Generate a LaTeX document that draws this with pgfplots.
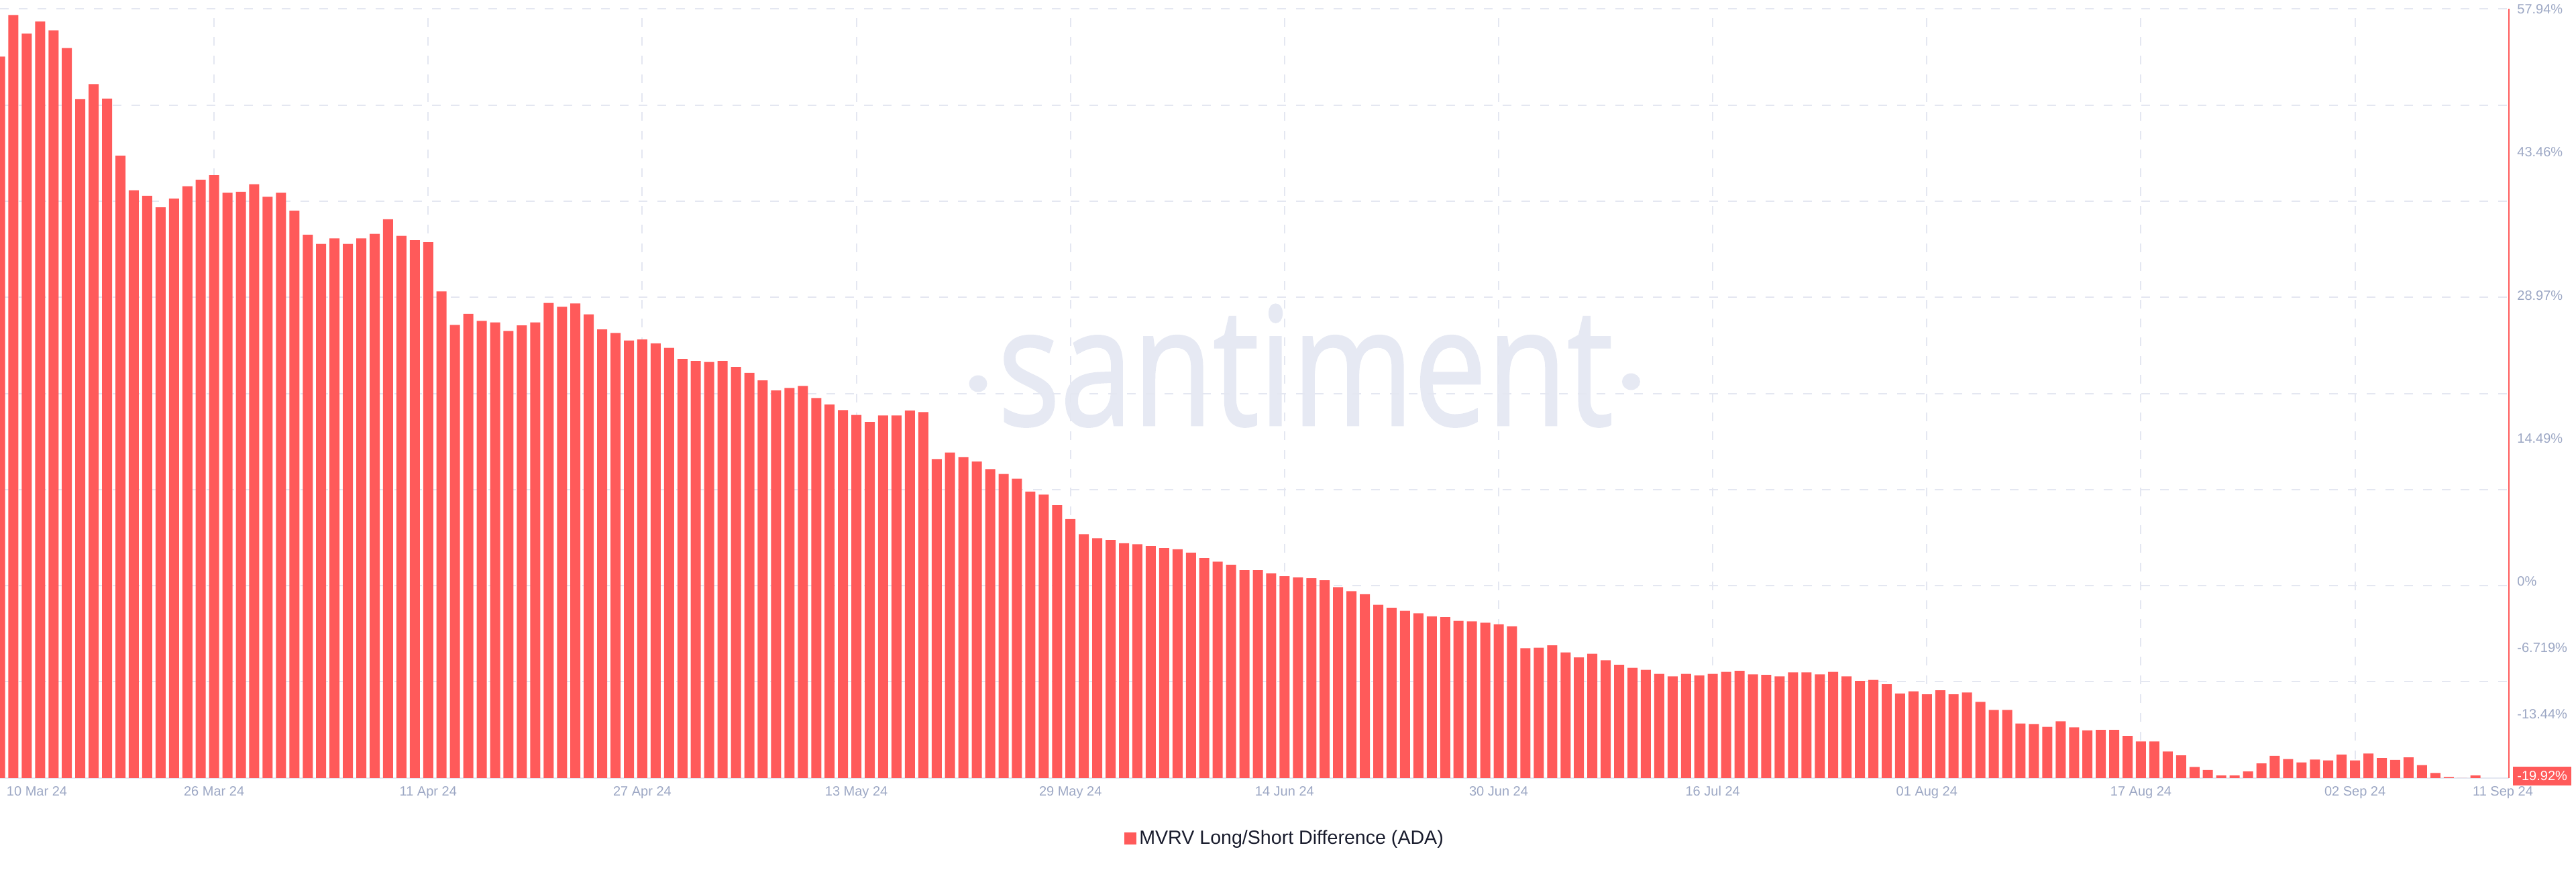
\documentclass[border=0pt]{standalone}
\usepackage{pgfplots}
\pgfplotsset{compat=1.18}
\usepackage{fontspec}
\setmainfont{Liberation Sans}
\newfontfamily\wmfont[FakeBold=1.2]{Open Sans}
\definecolor{barred}{RGB}{255,90,90}
\definecolor{gridcol}{RGB}{228,231,241}
\definecolor{tickgray}{RGB}{156,167,196}
\definecolor{legtext}{RGB}{25,28,45}
\definecolor{wmcol}{RGB}{230,233,243}
\begin{document}
\begin{tikzpicture}
\useasboundingbox (0pt,0pt) rectangle (1920pt,650pt);
% watermark
\fill[wmcol] (729pt,364pt) ellipse [x radius=6.75pt, y radius=6.25pt];
\fill[wmcol] (1215.7pt,365.5pt) ellipse [x radius=6.75pt, y radius=6.25pt];
\node[anchor=base west, inner sep=0pt, text=wmcol] at (743.5pt,333pt) {\resizebox{458.5pt}{90pt}{\wmfont santiment}};
\begin{axis}[
  at={(0pt,70.1pt)}, anchor=south west,
  scale only axis, width=1870pt, height=573.2pt,
  xmin=0, xmax=187.5, ymin=0, ymax=77.86,
  enlargelimits=false,
  axis x line*=bottom, axis y line*=right,
  x axis line style={draw=gridcol, line width=1pt},
  y axis line style={draw=barred, line width=0.9pt},
  major tick length=0pt, minor tick length=0pt,
  tick style={draw=none},
  xtick={0,16,32,48,64,80,96,112,128,144,160,176,187.05},
  xticklabels={\makebox[0pt][l]{\hspace{5pt}10 Mar 24}, 26 Mar 24, 11 Apr 24, 27 Apr 24, 13 May 24, 29 May 24, 14 Jun 24, 30 Jun 24, 16 Jul 24, 01 Aug 24, 17 Aug 24, 02 Sep 24, 11 Sep 24},
  xticklabel style={anchor=base, inner sep=0pt, yshift=-13.6pt, font=\fontsize{10pt}{12pt}\selectfont, text=tickgray},
  ytick={0,6.48,13.201,19.92,34.41,48.89,63.38,77.86},
  yticklabels={{}, -13.44\%, -6.719\%, 0\%, 14.49\%, 28.97\%, 43.46\%, 57.94\%},
  yticklabel style={anchor=mid west, inner sep=0pt, xshift=6pt, yshift=-1pt, font=\fontsize{10pt}{12pt}\selectfont, text=tickgray},
  minor xtick={16,32,48,64,80,96,112,128,144,160,176},
  minor ytick={9.7325,19.465,29.1975,38.93,48.6625,58.395,68.1275,77.86},
  xminorgrids=true, yminorgrids=true,
  xmajorgrids=false, ymajorgrids=false,
  minor grid style={draw=gridcol, line width=1pt, dash pattern=on 6.5pt off 7.5pt},
  legend style={at={(0.4481,-0.0787)}, anchor=west, draw=none, fill=none, inner sep=0pt,
    font=\fontsize{14.3pt}{17pt}\selectfont, text=legtext,
    /tikz/every even column/.append style={column sep=1pt}},
  legend cell align=left,
]
\addplot[ybar, bar width=7.5pt, fill=barred, draw=none,
  legend image code/.code={\fill[barred] (0pt,-4.5pt) rectangle (9pt,4.5pt);}]
  table[x=d, y expr=\thisrow{v}+19.92] {
d v
0 53.12
1 57.33
2 55.45
3 56.67
4 55.76
5 53.98
6 48.81
7 50.33
8 48.86
9 43.09
10 39.59
11 39.03
12 37.86
13 38.73
14 39.99
15 40.65
16 41.11
17 39.33
18 39.44
19 40.20
20 38.93
21 39.33
22 37.51
23 35.08
24 34.16
25 34.72
26 34.16
27 34.72
28 35.18
29 36.65
30 34.97
31 34.52
32 34.32
33 29.35
34 25.95
35 27.07
36 26.36
37 26.21
38 25.34
39 25.90
40 26.21
41 28.18
42 27.78
43 28.13
44 27.02
45 25.50
46 25.14
47 24.38
48 24.48
49 24.08
50 23.62
51 22.50
52 22.30
53 22.20
54 22.30
55 21.69
56 21.09
57 20.33
58 19.31
59 19.56
60 19.77
61 18.55
62 17.89
63 17.33
64 16.83
65 16.12
66 16.78
67 16.78
68 17.28
69 17.13
70 12.37
71 13.03
72 12.57
73 12.11
74 11.35
75 10.85
76 10.39
77 9.07
78 8.77
79 7.70
80 6.29
81 4.76
82 4.36
83 4.16
84 3.85
85 3.75
86 3.55
87 3.35
88 3.24
89 2.89
90 2.33
91 1.98
92 1.67
93 1.11
94 1.11
95 0.81
96 0.50
97 0.40
98 0.30
99 0.10
100 -0.61
101 -1.01
102 -1.32
103 -2.38
104 -2.69
105 -2.99
106 -3.25
107 -3.55
108 -3.65
109 -4.01
110 -4.06
111 -4.21
112 -4.36
113 -4.56
114 -6.79
115 -6.74
116 -6.49
117 -7.20
118 -7.71
119 -7.35
120 -8.01
121 -8.47
122 -8.77
123 -8.97
124 -9.38
125 -9.63
126 -9.38
127 -9.53
128 -9.38
129 -9.18
130 -9.07
131 -9.43
132 -9.48
133 -9.63
134 -9.23
135 -9.23
136 -9.43
137 -9.18
138 -9.63
139 -10.09
140 -9.99
141 -10.44
142 -11.36
143 -11.15
144 -11.46
145 -11.05
146 -11.46
147 -11.26
148 -12.22
149 -13.03
150 -13.03
151 -14.40
152 -14.45
153 -14.75
154 -14.19
155 -14.80
156 -15.11
157 -15.06
158 -15.06
159 -15.66
160 -16.22
161 -16.22
162 -17.24
163 -17.64
164 -18.81
165 -19.11
166 -19.67
167 -19.67
168 -19.26
169 -18.45
170 -17.69
171 -18.00
172 -18.35
173 -18.05
174 -18.15
175 -17.54
176 -18.15
177 -17.44
178 -17.90
179 -18.10
180 -17.84
181 -18.61
182 -19.42
183 -19.82
184 -19.92
185 -19.67
};
\addlegendentry{MVRV Long/Short Difference (ADA)}
\end{axis}
\node[anchor=west, fill=barred, text=white, inner xsep=3pt, inner ysep=0pt, minimum height=14pt, font=\fontsize{10pt}{12pt}\selectfont] at (1873pt,71.5pt) {-19.92\%};
\end{tikzpicture}
\end{document}
